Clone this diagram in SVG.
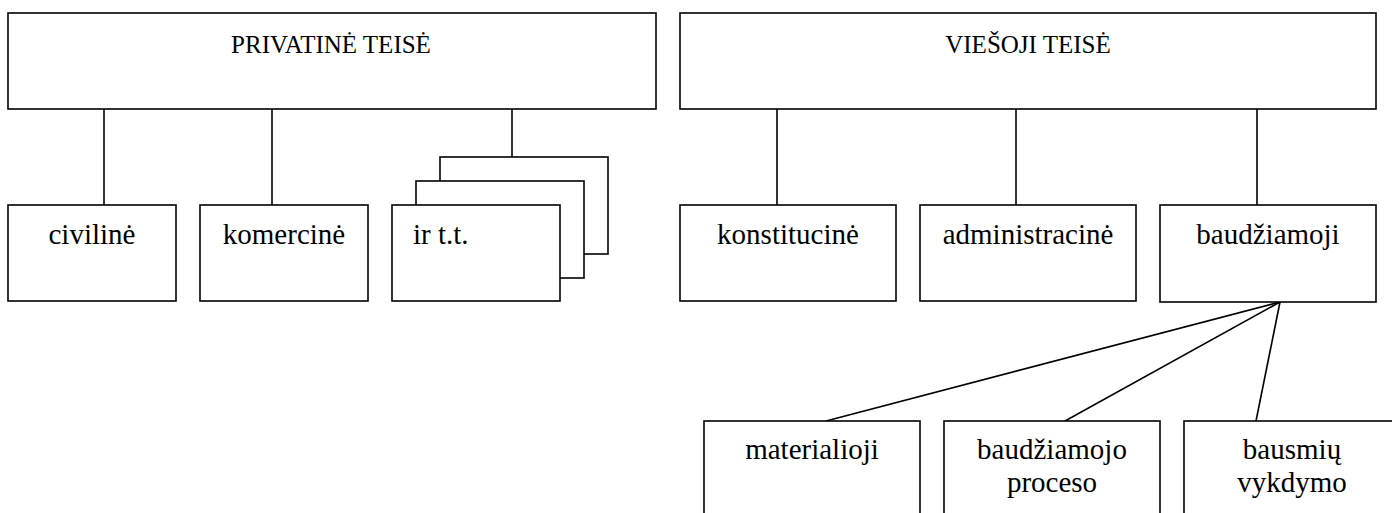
<svg xmlns="http://www.w3.org/2000/svg" width="1392" height="513" viewBox="0 0 1392 513">
<style>
.box{fill:#fff;stroke:#000;stroke-width:1.6}
.con line{stroke:#000;stroke-width:1.6}
text{font-family:"Liberation Serif","Times New Roman",serif;fill:#000}
.h{font-size:25px;text-anchor:middle}
.t{font-size:29px;text-anchor:middle}
</style>
<rect width="1392" height="513" fill="#fff"/>
<g id="connectors" class="con">
<line x1="104" y1="109" x2="104" y2="205"/>
<line x1="272" y1="109" x2="272" y2="205"/>
<line x1="512" y1="109" x2="512" y2="157"/>
<line x1="777" y1="109" x2="777" y2="205"/>
<line x1="1016" y1="109" x2="1016" y2="205"/>
<line x1="1257" y1="109" x2="1257" y2="205"/>
<line x1="1280" y1="302" x2="826" y2="421"/>
<line x1="1280" y1="302" x2="1065" y2="421"/>
<line x1="1280" y1="302" x2="1256" y2="421"/>
</g>
<g id="privatine">
<rect class="box" x="8" y="13" width="648" height="96"/>
<text class="h" x="331" y="53">PRIVATINĖ TEISĖ</text>
</g>
<g id="viesoji">
<rect class="box" x="680" y="13" width="696" height="96"/>
<text class="h" x="1028" y="53">VIEŠOJI TEISĖ</text>
</g>
<g id="civiline">
<rect class="box" x="8" y="205" width="168" height="96"/>
<text class="t" x="92" y="244">civilinė</text>
</g>
<g id="komercine">
<rect class="box" x="200" y="205" width="168" height="96"/>
<text class="t" x="284" y="244">komercinė</text>
</g>
<g id="irtt">
<rect class="box" x="440" y="157" width="168" height="97"/>
<rect class="box" x="416" y="181" width="168" height="97"/>
<rect class="box" x="392" y="205" width="168" height="96"/>
<text x="413" y="244" font-size="29">ir t.t.</text>
</g>
<g id="konstitucine">
<rect class="box" x="680" y="205" width="216" height="96"/>
<text class="t" x="788" y="244">konstitucinė</text>
</g>
<g id="administracine">
<rect class="box" x="920" y="205" width="216" height="96"/>
<text class="t" x="1028" y="244">administracinė</text>
</g>
<g id="baudziamoji">
<rect class="box" x="1160" y="205" width="216" height="97"/>
<text class="t" x="1268" y="244">baudžiamoji</text>
</g>
<g id="materialioji">
<rect class="box" x="704" y="421" width="216" height="110"/>
<text class="t" x="812" y="459">materialioji</text>
</g>
<g id="proceso">
<rect class="box" x="944" y="421" width="216" height="110"/>
<text class="t" x="1052" y="459">baudžiamojo</text>
<text class="t" x="1052" y="492">proceso</text>
</g>
<g id="vykdymo">
<rect class="box" x="1184" y="421" width="216" height="110"/>
<text class="t" x="1292" y="459">bausmių</text>
<text class="t" x="1292" y="492">vykdymo</text>
</g>
</svg>
